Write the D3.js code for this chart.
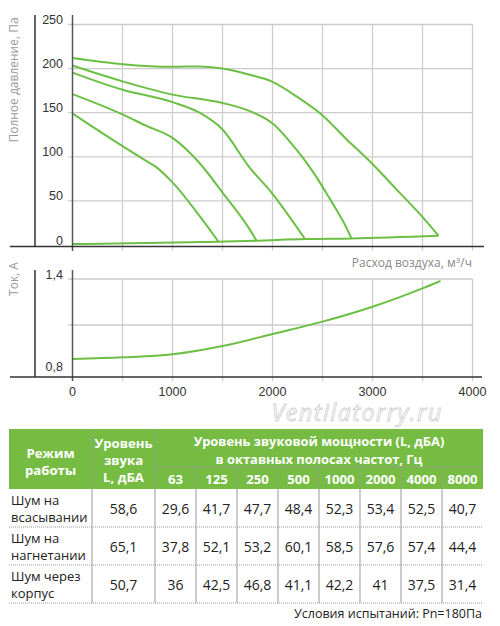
<!DOCTYPE html>
<html>
<head>
<meta charset="utf-8">
<script src="https://cdn.jsdelivr.net/npm/d3@7"></script>
<style>
  body { margin: 0; background: #fff; }
  svg { display: block; }
</style>
</head>
<body>
<script>
// pressure curves: [airflow m3/h, pressure Pa]
var curve1 = [[0,212],[500,205],[1000,202],[1270,202.5],[1500,200],[1770,193],[1990,185.5],[2240,168.5],[2490,148],[2740,120],[2990,93],[3240,63],[3490,33],[3660,10.5]];
var curve2 = [[0,203.5],[500,185.5],[1000,170.5],[1500,161],[1770,152],[2010,137],[2240,108],[2410,82],[2575,52],[2710,26],[2790,7.5]];
var curve3 = [[0,195.5],[500,176],[1000,162],[1270,150],[1500,131],[1770,88],[1990,59.5],[2325,6.8]];
var curve4 = [[0,171],[500,148],[740,135],[1000,121.5],[1270,93],[1500,59.5],[1770,18],[1840,4.9]];
var curve5 = [[0,149],[500,112],[740,95],[840,88],[1000,71],[1270,33],[1460,3.7]];
var baseCurve = [[0,1],[1460,3.7],[1840,4.9],[2325,6.8],[2790,7.5],[3660,10.5]];

// current curve: [airflow, A]
var currentCurve = [[0,0.878],[500,0.889],[1000,0.909],[1500,0.963],[2000,1.041],[2500,1.122],[3000,1.219],[3500,1.339],[3680,1.387]];

var pressureTicks = [0, 50, 100, 150, 200, 250];
var currentTicks = [0.8, 1.1, 1.4];
var currentTickLabels = ["0,8", "", "1,4"];
var flowGrid = [500, 1000, 1500, 2000, 2500, 3000, 3500, 4000];
var flowLabels = [0, 1000, 2000, 3000, 4000];

// noise table
var modes = [["Шум на", "всасывании"], ["Шум на", "нагнетании"], ["Шум через", "корпус"]];
var soundLevel = ["58,6", "65,1", "50,7"];
var freqs = ["63", "125", "250", "500", "1000", "2000", "4000", "8000"];
var octaveValues = [
  ["29,6", "41,7", "47,7", "48,4", "52,3", "53,4", "52,5", "40,7"],
  ["37,8", "52,1", "53,2", "60,1", "58,5", "57,6", "57,4", "44,4"],
  ["36", "42,5", "46,8", "41,1", "42,2", "41", "37,5", "31,4"]
];

var green = "#6cbf45";
var narrow = "'Liberation Sans Narrow', 'Liberation Sans', sans-serif";
var sans = "'Open Sans', 'Noto Sans', sans-serif";

var svg = d3.select("body").append("svg")
  .attr("width", 500)
  .attr("height", 626);

var x = d3.scaleLinear().domain([0, 4000]).range([72.5, 472.5]);
var yP = d3.scaleLinear().domain([0, 250]).range([245, 24.5]);
var yI = d3.scaleLinear().domain([0.8, 1.4]).range([371, 279]);

// ---------- top chart ----------
var topG = svg.append("g");

topG.selectAll(".hgrid").data(pressureTicks.filter(function(d) { return d > 0; }))
  .enter().append("line")
  .attr("x1", 68).attr("x2", x(4000))
  .attr("y1", function(d) { return yP(d); })
  .attr("y2", function(d) { return yP(d); })
  .style("stroke", "#cccccc").style("stroke-width", 1.3);

topG.selectAll(".vgrid").data(flowGrid)
  .enter().append("line")
  .attr("x1", function(d) { return x(d); })
  .attr("x2", function(d) { return x(d); })
  .attr("y1", yP(250)).attr("y2", 250.5)
  .style("stroke", "#cccccc").style("stroke-width", 1.3);

topG.selectAll(".ptick").data(pressureTicks)
  .enter().append("text")
  .attr("x", 63)
  .attr("y", function(d) { return yP(d) - 0.5; })
  .attr("text-anchor", "end")
  .style("font-family", narrow)
  .style("font-size", "12.5px")
  .style("fill", "#333")
  .text(function(d) { return d; });

var lineP = d3.line()
  .x(function(d) { return x(d[0]); })
  .y(function(d) { return yP(d[1]); })
  .curve(d3.curveMonotoneX);

[curve1, curve2, curve3, curve4, curve5, baseCurve].forEach(function(c) {
  topG.append("path")
    .attr("d", lineP(c))
    .style("fill", "none")
    .style("stroke", green)
    .style("stroke-width", 2)
    .style("stroke-linejoin", "round");
});

topG.append("line").attr("x1", 35).attr("x2", 35).attr("y1", 15).attr("y2", 246.5)
  .style("stroke", "#333").style("stroke-width", 1.5);
topG.append("line").attr("x1", x(0)).attr("x2", x(0)).attr("y1", 15).attr("y2", 251)
  .style("stroke", "#555").style("stroke-width", 1.5);
topG.append("line").attr("x1", 10).attr("x2", 484).attr("y1", 246.5).attr("y2", 246.5)
  .style("stroke", "#333").style("stroke-width", 1.5);

topG.append("text")
  .attr("transform", "translate(18,80) rotate(-90)")
  .attr("text-anchor", "middle")
  .style("font-family", sans)
  .style("font-size", "12px")
  .style("fill", "#999")
  .text("Полное давление, Па");

topG.append("text")
  .attr("x", 472).attr("y", 267)
  .attr("text-anchor", "end")
  .style("font-family", sans)
  .style("font-size", "12px")
  .style("fill", "#888")
  .html("Расход воздуха, м<tspan dy='-4' font-size='8px'>3</tspan><tspan dy='4'>/ч</tspan>");

// ---------- bottom chart ----------
var botG = svg.append("g");

botG.selectAll(".hgrid").data(currentTicks.slice(1))
  .enter().append("line")
  .attr("x1", 68).attr("x2", x(4000))
  .attr("y1", function(d) { return yI(d); })
  .attr("y2", function(d) { return yI(d); })
  .style("stroke", "#cccccc").style("stroke-width", 1.3);

botG.selectAll(".vgrid").data(flowGrid)
  .enter().append("line")
  .attr("x1", function(d) { return x(d); })
  .attr("x2", function(d) { return x(d); })
  .attr("y1", yI(1.4)).attr("y2", 381)
  .style("stroke", "#cccccc").style("stroke-width", 1.3);

botG.selectAll(".itick").data(currentTicks)
  .enter().append("text")
  .attr("x", 63)
  .attr("y", function(d) { return yI(d) - 0.5; })
  .attr("text-anchor", "end")
  .style("font-family", narrow)
  .style("font-size", "12.5px")
  .style("fill", "#333")
  .text(function(d, i) { return currentTickLabels[i]; });

botG.selectAll(".xtick").data(flowLabels)
  .enter().append("text")
  .attr("x", function(d) { return x(d); })
  .attr("y", 396)
  .attr("text-anchor", "middle")
  .style("font-family", narrow)
  .style("font-size", "12.5px")
  .style("fill", "#333")
  .text(function(d) { return d; });

var lineI = d3.line()
  .x(function(d) { return x(d[0]); })
  .y(function(d) { return yI(d[1]); })
  .curve(d3.curveMonotoneX);

botG.append("path")
  .attr("d", lineI(currentCurve))
  .style("fill", "none")
  .style("stroke", green)
  .style("stroke-width", 2);

botG.append("line").attr("x1", 35).attr("x2", 35).attr("y1", 270).attr("y2", 377)
  .style("stroke", "#333").style("stroke-width", 1.5);
botG.append("line").attr("x1", x(0)).attr("x2", x(0)).attr("y1", 270).attr("y2", 381)
  .style("stroke", "#555").style("stroke-width", 1.5);
botG.append("line").attr("x1", 10).attr("x2", 482).attr("y1", 377).attr("y2", 377)
  .style("stroke", "#333").style("stroke-width", 1.5);

botG.append("text")
  .attr("transform", "translate(18,279) rotate(-90)")
  .attr("text-anchor", "middle")
  .style("font-family", sans)
  .style("font-size", "12px")
  .style("fill", "#999")
  .text("Ток, А");

// watermark
svg.append("text")
  .attr("x", 357).attr("y", 421)
  .attr("text-anchor", "middle")
  .style("font-family", sans)
  .style("font-style", "italic")
  .style("font-size", "23.5px")
  .style("letter-spacing", "1.4px")
  .style("fill", "#fff")
  .style("stroke", "#d0d0d0")
  .style("stroke-width", 0.8)
  .text("Ventilatorry.ru");

// ---------- noise table ----------
var tbl = svg.append("g");
var colX = d3.scaleBand().domain(freqs).range([155, 483]);
var rowTop = [489, 527, 565];
var rowH = 38;

tbl.append("rect")
  .attr("x", 9).attr("y", 429).attr("width", 474).attr("height", 60)
  .style("fill", "#76bc43");

var sepColor = "#8fa383";
tbl.append("line").attr("x1", 92).attr("x2", 92).attr("y1", 429).attr("y2", 489)
  .style("stroke", sepColor).style("stroke-width", 1);
tbl.append("line").attr("x1", 155).attr("x2", 155).attr("y1", 429).attr("y2", 489)
  .style("stroke", sepColor).style("stroke-width", 1);
tbl.append("line").attr("x1", 155).attr("x2", 483).attr("y1", 467).attr("y2", 467)
  .style("stroke", sepColor).style("stroke-width", 1);
tbl.selectAll(".fsep").data(freqs.slice(1))
  .enter().append("line")
  .attr("x1", function(d) { return colX(d); })
  .attr("x2", function(d) { return colX(d); })
  .attr("y1", 467).attr("y2", 489)
  .style("stroke", sepColor).style("stroke-width", 1);

function headText(txt, cx, cy, size) {
  tbl.append("text")
    .attr("x", cx).attr("y", cy)
    .attr("text-anchor", "middle")
    .style("font-family", sans)
    .style("font-weight", "bold")
    .style("font-size", size || "13.2px")
    .style("fill", "#fff")
    .text(txt);
}
headText("Режим", 50.5, 458);
headText("работы", 50.5, 475);
headText("Уровень", 123.5, 448);
headText("звука", 123.5, 465);
headText("L, дБА", 123.5, 482);
headText("Уровень звуковой мощности (L, дБА)", 319, 446, "12.9px");
headText("в октавных полосах частот, Гц", 319, 463.5, "12.9px");
freqs.forEach(function(f) { headText(f, colX(f) + colX.bandwidth() / 2, 484); });

// body separators
tbl.selectAll(".rsep").data(rowTop.map(function(d) { return d + rowH; }))
  .enter().append("line")
  .attr("x1", 9).attr("x2", 483)
  .attr("y1", function(d) { return d; })
  .attr("y2", function(d) { return d; })
  .style("stroke", "#999").style("stroke-width", 1)
  .style("stroke-dasharray", "1,1");

[92, 155].concat(freqs.slice(1).map(function(d) { return colX(d); })).forEach(function(xx) {
  tbl.append("line").attr("x1", xx).attr("x2", xx).attr("y1", 489).attr("y2", 603)
    .style("stroke", "#999").style("stroke-width", 1);
});

function bodyText(txt, xx, yy, anchor, size) {
  tbl.append("text")
    .attr("x", xx).attr("y", yy)
    .attr("text-anchor", anchor)
    .style("font-family", sans)
    .style("font-size", size)
    .style("fill", "#222")
    .text(txt);
}
modes.forEach(function(m, i) {
  bodyText(m[0], 11, rowTop[i] + 16, "start", "13px");
  bodyText(m[1], 11, rowTop[i] + 33, "start", "13px");
  bodyText(soundLevel[i], 123.5, rowTop[i] + 25, "middle", "14px");
  octaveValues[i].forEach(function(v, j) {
    bodyText(v, colX(freqs[j]) + colX.bandwidth() / 2, rowTop[i] + 25, "middle", "14px");
  });
});

tbl.append("text")
  .attr("x", 482).attr("y", 618)
  .attr("text-anchor", "end")
  .style("font-family", sans)
  .style("font-size", "12.5px")
  .style("fill", "#222")
  .text("Условия испытаний: Рn=180Па");
</script>
</body>
</html>
